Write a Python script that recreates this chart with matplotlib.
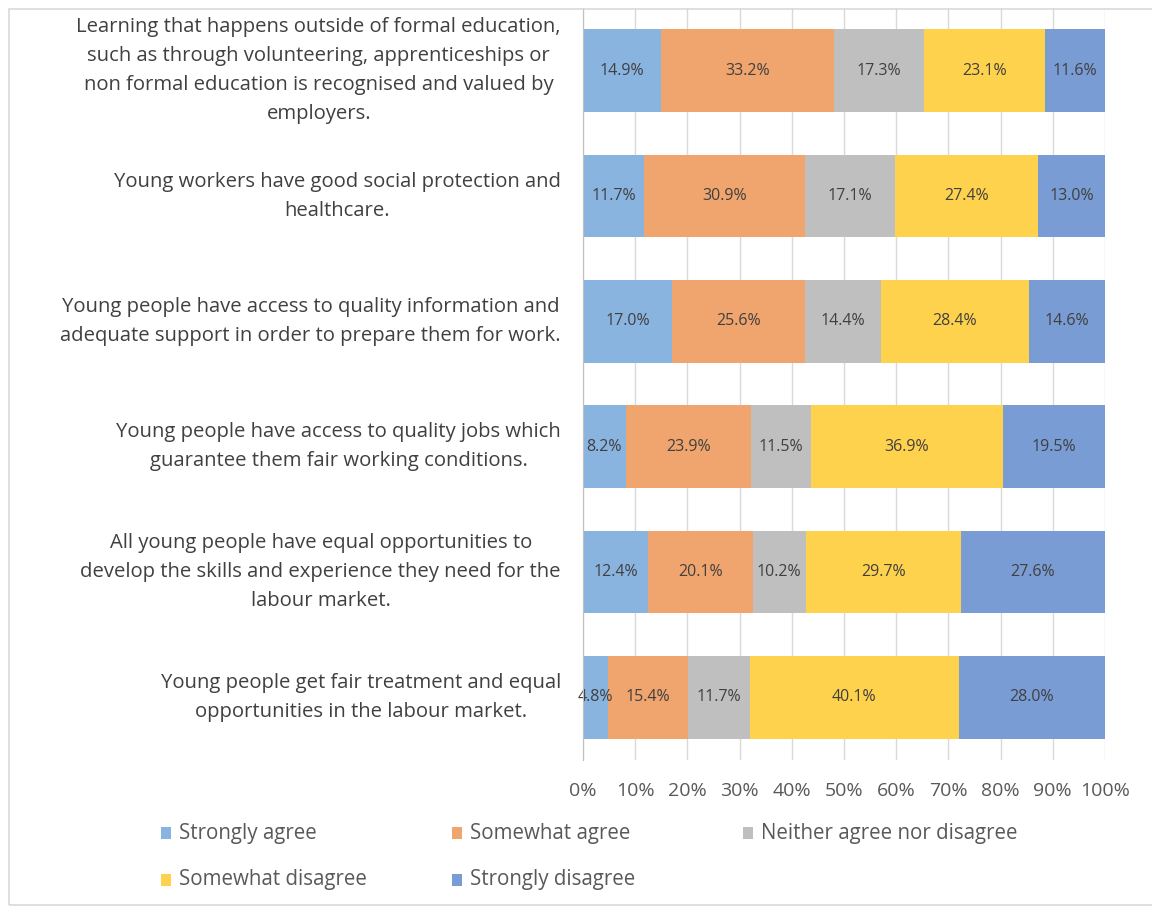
import matplotlib
matplotlib.use("Agg")
import matplotlib.pyplot as plt
from matplotlib.patches import Rectangle
from matplotlib.transforms import ScaledTranslation
import numpy as np

plt.rcParams['font.family'] = ['Open Sans', 'DejaVu Sans']

categories = [
    "Learning that happens outside of formal education,\nsuch as through volunteering, apprenticeships or\nnon formal education is recognised and valued by\nemployers.",
    "Young workers have good social protection and\nhealthcare.",
    "Young people have access to quality information and\nadequate support in order to prepare them for work.",
    "Young people have access to quality jobs which\nguarantee them fair working conditions.",
    "All young people have equal opportunities to\ndevelop the skills and experience they need for the\nlabour market.",
    "Young people get fair treatment and equal\nopportunities in the labour market.",
]
series_names = ["Strongly agree", "Somewhat agree", "Neither agree nor disagree",
                "Somewhat disagree", "Strongly disagree"]
strongly_agree = [14.9, 11.7, 17.0, 8.2, 12.4, 4.8]
somewhat_agree = [33.2, 30.9, 25.6, 23.9, 20.1, 15.4]
neither = [17.3, 17.1, 14.4, 11.5, 10.2, 11.7]
somewhat_disagree = [23.1, 27.4, 28.4, 36.9, 29.7, 40.1]
strongly_disagree = [11.6, 13.0, 14.6, 19.5, 27.6, 28.0]
colors = ["#8AB4E0", "#F0A46E", "#BFBFBF", "#FFD24D", "#7A9CD4"]
x_ticks = [0, 10, 20, 30, 40, 50, 60, 70, 80, 90, 100]

series = [strongly_agree, somewhat_agree, neither, somewhat_disagree, strongly_disagree]

W, H = 1152, 907
fig = plt.figure(figsize=(W / 100, H / 100), dpi=100)
ax = fig.add_axes([583 / W, 1 - 760 / H, (1105 - 583) / W, (760 - 8) / H])

y = np.arange(len(categories))
left = np.zeros(len(categories))
for name, vals, c in zip(series_names, series, colors):
    vals = np.array(vals)
    ax.barh(y, vals, left=left, height=0.66, color=c, label=name, zorder=2)
    for yi, l, v in zip(y, left, vals):
        ax.text(l + v / 2, yi, f"{v:.1f}%", ha='center', va='center',
                fontsize=11.5, color='#404040', zorder=3)
    left += vals

ax.set_ylim(len(categories) - 0.5, -0.5)
ax.set_xlim(0, 100)
ax.set_xticks(x_ticks)
ax.set_xticklabels([f"{t}%" for t in x_ticks], fontsize=14, color='#595959')
ax.set_yticks(y)
ax.set_yticklabels([])
# category labels
lab_tr = ax.get_yaxis_transform() + ScaledTranslation(-0.22, 0.0, fig.dpi_scale_trans)
for yi, cat in zip(y, categories):
    ax.text(0, yi, cat, transform=lab_tr, ha='right', va='center',
            multialignment='center', fontsize=14.6, color='#404040', linespacing=1.6)
ax.tick_params(axis='y', length=0)
ax.tick_params(axis='x', length=0, pad=16)
ax.grid(axis='x', color='#D9D9D9', linewidth=1, zorder=0)
for s in ['top', 'right', 'bottom']:
    ax.spines[s].set_visible(False)
ax.spines['left'].set_color('#BFBFBF')
ax.spines['left'].set_zorder(4)

# frame around chart area
fig.patches.append(Rectangle((9 / W, 1 - 905 / H), 1.2, (905 - 9) / H,
                             transform=fig.transFigure, fill=False,
                             edgecolor='#D9D9D9', linewidth=1.2))

# legend
leg_pos = [(161, 833), (452, 833), (743, 833), (161, 880), (452, 880)]
for (px, py), name, c in zip(leg_pos, series_names, colors):
    fig.patches.append(Rectangle((px / W, 1 - (py + 6) / H), 10 / W, 12 / H,
                                 transform=fig.transFigure, facecolor=c, edgecolor='none'))
    fig.text((px + 18) / W, 1 - py / H, name, fontsize=14.8, color='#595959',
             ha='left', va='center')

fig.savefig("out.png", dpi=100)
